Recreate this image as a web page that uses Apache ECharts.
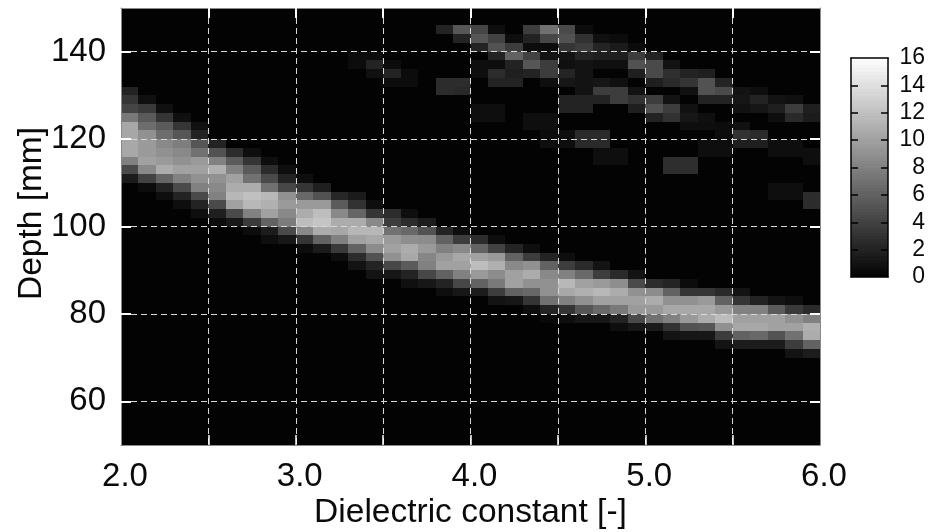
<!DOCTYPE html>
<html>
<head>
<meta charset="utf-8">
<script src="https://cdn.jsdelivr.net/npm/echarts@6/dist/echarts.min.js"></script>
<style>html,body{margin:0;padding:0;background:#fff}#c{width:930px;height:532px}</style>
</head>
<body>
<div id="c"></div>
<script>
const xLabelValues = [2, 3, 4, 5, 6];
const xTickValues = [2.5, 3, 3.5, 4, 4.5, 5, 5.5];
const yTickValues = [60, 80, 100, 120, 140];
const colorbarTicks = [0, 2, 4, 6, 8, 10, 12, 14, 16];
const xTitle = 'Dielectric constant [-]';
const yTitle = 'Depth [mm]';

// Main band, one entry per 0.1 column from 2.0: [top depth of first cell, cell values going down in 2 mm steps]
const bandColumns = [
  [132, [2, 3.2, 4.2, 7.5, 10.5, 10.4, 10.5, 10.5, 8, 4.5, 1.5]],
  [130, [0.8, 3.5, 5.5, 6.7, 9, 9.6, 9.6, 10, 8.5, 4, 0.6]],
  [128, [0.8, 3.2, 5.6, 6.7, 8.5, 9, 9.6, 10.7, 6.2, 2, 0.7]],
  [126, [0.8, 3.2, 5.3, 7.8, 8.5, 9, 10, 8, 4.5, 2, 0.7]],
  [124, [0.8, 2, 5.3, 7, 9.6, 10, 9, 8, 4.5, 2, 0.7]],
  [120, [2, 5, 8, 11, 9, 8.5, 8, 4.5, 1.8, 0.6]],
  [118, [2.6, 5.6, 8, 10, 10.7, 11.4, 10, 4.5, 1.3]],
  [118, [0.7, 3.2, 5.5, 7, 10.7, 12, 11.5, 8, 3.5, 0.6]],
  [116, [0.7, 2.6, 4.5, 7, 11.5, 11, 10, 6, 1.6, 0.7]],
  [114, [0.7, 2, 4.3, 9, 9.6, 8.5, 7.7, 4.5, 1.3]],
  [112, [0.7, 3.2, 6.4, 9.6, 10.7, 11.8, 8.5, 3.2, 0.6]],
  [110, [1.8, 5, 9.6, 11.8, 12.3, 10.7, 6, 1.5]],
  [108, [2.3, 5.6, 8.5, 10.7, 10.4, 8, 3.5, 0.7]],
  [108, [1.5, 3, 6.2, 10.7, 11.4, 10, 6, 2.6, 1]],
  [106, [0.7, 3.2, 8.5, 11.4, 10.5, 8.7, 5, 2.1, 1]],
  [104, [2.6, 3.7, 7, 9.6, 10, 9, 4.3, 1.3]],
  [104, [0.7, 2.6, 6.4, 8.8, 10.7, 10.5, 5.6, 2, 0.8]],
  [102, [1.6, 5, 8.7, 9.6, 8.3, 8, 4.3, 1.3]],
  [100, [2.1, 6, 8, 9.6, 10, 6, 2, 0.7]],
  [100, [0.7, 3.7, 8.5, 10.5, 10, 8, 4.3, 1.3]],
  [98, [2.6, 6, 10, 11.8, 9.6, 6, 1.6]],
  [98, [0.7, 4, 9.6, 11, 8.7, 7.5, 3.7, 1]],
  [96, [2.1, 6, 8.5, 10, 10, 6, 1.3]],
  [96, [0.7, 3.7, 9, 10.7, 9, 6.4, 3.2, 0.7]],
  [94, [2, 6, 8.5, 9, 9, 7, 2.1, 0.4]],
  [94, [0.7, 3.7, 8, 11.5, 10.5, 8, 3.2, 0.7]],
  [92, [2.5, 6.5, 10, 11, 9, 5.3, 1.3]],
  [92, [1, 3.7, 9.6, 11.5, 10, 6.4, 1.3]],
  [90, [2.5, 8.8, 10.7, 10, 7.5, 2, 0.7]],
  [90, [1, 4.5, 9, 10, 9.6, 4.5, 1.3]],
  [88, [2.6, 8.7, 10.7, 9.6, 7, 1.5]],
  [88, [2.1, 6, 9, 10.5, 8, 3, 1]],
  [88, [0.6, 3.2, 9, 10.5, 9.6, 5, 1.3]],
  [86, [3.2, 9.6, 10.5, 10.7, 5.3, 1.3]],
  [86, [2.5, 6, 9.6, 11.8, 9, 3.7, 1]],
  [86, [1, 3.2, 8, 10, 10.5, 6, 1.6]],
  [84, [2, 8, 10, 10.5, 6.4, 1.6]],
  [84, [1.1, 5.6, 10, 10, 5, 1.6]],
  [84, [0.7, 3.5, 9, 10, 7, 3.7, 1]],
  [82, [2.5, 8, 11, 10.7, 6, 1.6]]
];

// Faint scattered cells in the upper part: [column index, top depth of cell, value]
const faintCells = [
  [18,146,2],[19,146,5.3],[20,146,4.2],[21,146,0.7],[23,146,3.7],[24,146,7],[25,146,4.5],[26,146,0.6],
  [19,144,2],[20,144,5.3],[21,144,4],[22,144,0.7],[23,144,2],[24,144,4.3],[25,144,5],[26,144,3],[27,144,0.8],[28,144,0.6],
  [20,142,2],[21,142,5],[22,142,3.7],[23,142,0.6],[24,142,0.5],[25,142,3.2],[26,142,3.7],[27,142,2.1],[28,142,1.5],[29,142,0.5],
  [13,140,0.6],[14,140,0.6],[21,140,2],[22,140,6],[23,140,4],[24,140,1],[25,140,1],[26,140,2],[27,140,1.8],[28,140,1.8],[29,140,3.7],[30,140,2],
  [13,138,0.6],[14,138,2],[15,138,0.6],[20,138,0.7],[21,138,0.7],[22,138,2],[23,138,5.3],[24,138,3.7],[25,138,0.8],[26,138,1],[27,138,0.8],[28,138,0.8],[29,138,5],[30,138,4.5],[31,138,1],
  [14,136,0.8],[15,136,2],[16,136,0.6],[20,136,0.7],[21,136,2.6],[22,136,1.8],[23,136,2],[24,136,3.7],[25,136,2.1],[26,136,1],[29,136,1.8],[30,136,4.5],[31,136,2.8],[32,136,2],[33,136,1.8],
  [15,134,0.6],[16,134,0.6],[18,134,2.6],[19,134,2.6],[21,134,2],[22,134,2],[24,134,0.7],[25,134,1.3],[26,134,1],[27,134,1.2],[28,134,0.8],[30,134,1.8],[31,134,2.5],[32,134,3.2],[33,134,5],[34,134,2.1],
  [18,132,2.6],[19,132,2.4],[26,132,1],[27,132,3.7],[28,132,3.7],[29,132,1],[32,132,0.9],[33,132,5],[34,132,4.5],[35,132,1],[36,132,0.7],
  [25,130,2],[26,130,2],[27,130,2],[28,130,3.7],[29,130,3],[30,130,3.7],[31,130,1],[33,130,2],[34,130,2],[35,130,1.2],[36,130,2],[37,130,1],[38,130,0.8],
  [20,128,0.7],[21,128,0.7],[25,128,2],[26,128,2],[29,128,1.8],[30,128,5],[31,128,3.7],[32,128,0.9],[35,128,0.9],[36,128,1.2],[37,128,1.8],[38,128,3.7],[39,128,1.8],
  [20,126,0.7],[21,126,0.7],[23,126,0.7],[24,126,0.7],[30,126,2],[31,126,3],[32,126,1.3],[33,126,0.8],[37,126,0.7],[38,126,2.5],[39,126,1.6],
  [23,124,0.7],[24,124,0.7],[32,124,0.7],[33,124,0.7],[34,124,0.6],[35,124,0.9],
  [24,122,0.5],[25,122,0.7],[26,122,2.5],[27,122,2.5],[34,122,0.6],[35,122,3],[36,122,2.5],
  [24,120,0.7],[25,120,0.7],[26,120,2.5],[27,120,2.5],[33,120,0.7],[34,120,0.7],[35,120,1.8],[36,120,1.8],[37,120,0.7],[38,120,0.7],
  [27,118,0.7],[28,118,0.7],[33,118,0.7],[34,118,0.7],[37,118,0.7],[38,118,0.7],[39,118,0.7],
  [27,116,0.7],[28,116,0.7],[31,116,2.7],[32,116,2.7],[39,116,0.7],
  [31,114,2.7],[32,114,2.7],
  [37,110,0.7],[38,110,0.7],
  [37,108,0.7],[38,108,0.7],[39,108,2.6],
  [39,106,2.6]
];

const colorbarLevels = [];
for (let i = 0; i < 64; i++) colorbarLevels.push(i * 0.25);

const cells = [];
bandColumns.forEach(function (col, c) {
  col[1].forEach(function (v, i) {
    cells.push([2 + c * 0.1, col[0] - 2 * (i + 1), v, 0.1, 2]);
  });
});
faintCells.forEach(function (f) {
  cells.push([2 + f[0] * 0.1, f[1] - 2, f[2], 0.1, 2]);
});
const colorbarCells = colorbarLevels.map(function (v) {
  return [0, v, v + 0.125, 1, 0.25];
});

function renderCell(params, api) {
  const a = api.coord([api.value(0), api.value(1) + api.value(4)]);
  const b = api.coord([api.value(0) + api.value(3), api.value(1)]);
  const x0 = Math.round(a[0]), y0 = Math.round(a[1]);
  const x1 = Math.round(b[0]), y1 = Math.round(b[1]);
  return {
    type: 'rect',
    shape: { x: x0, y: y0, width: x1 - x0, height: y1 - y0 },
    style: { fill: api.visual('color') }
  };
}

const font = 'Liberation Sans';
const ink = '#0a0a0a';
const tickWhite = { show: true, inside: true, length: 10, lineStyle: { color: '#fff', width: 2 } };
const frame = { show: true, onZero: false, lineStyle: { color: '#8a8a8a', width: 1 } };
const gridLine = { show: true, lineStyle: { color: '#d8d8d8', width: 1, type: [6, 4] } };
const barLine = { show: true, onZero: false, lineStyle: { color: '#000', width: 1.5 } };
const barTick = { show: true, inside: true, length: 7, customValues: colorbarTicks.slice(1, -1), lineStyle: { color: '#000', width: 1.5 } };

const chart = echarts.init(document.getElementById('c'), null, { renderer: 'canvas' });
chart.setOption({
  animation: false,
  backgroundColor: '#fff',
  visualMap: {
    show: false, min: 0, max: 16, dimension: 2, seriesIndex: [0, 1],
    inRange: { color: ['#030303', '#ffffff'] }
  },
  grid: [
    { left: 121, top: 8, width: 699, height: 437, show: true, backgroundColor: '#030303', borderWidth: 0, outerBoundsMode: 'none', containLabel: false },
    { left: 851, top: 58, width: 37, height: 219, show: false, outerBoundsMode: 'none', containLabel: false }
  ],
  xAxis: [
    {
      type: 'value', gridIndex: 0, min: 2, max: 6, position: 'bottom', z: 10,
      axisLine: frame,
      axisTick: Object.assign({}, tickWhite, { customValues: xTickValues, lineStyle: { color: '#fff', width: 1.5 } }),
      splitLine: gridLine,
      axisLabel: {
        customValues: xLabelValues, fontFamily: font, fontSize: 33, color: ink, margin: 15,
        padding: [0, 0, 0, 8], hideOverlap: false,
        formatter: function (v) { return v.toFixed(1); }
      },
      name: xTitle, nameLocation: 'middle', nameGap: 51, nameMoveOverlap: false,
      nameTextStyle: { fontFamily: font, fontSize: 33.5, color: ink }
    },
    {
      type: 'value', gridIndex: 0, min: 2, max: 6, position: 'top', z: 10,
      axisLine: frame,
      axisTick: Object.assign({}, tickWhite, { customValues: xTickValues }),
      splitLine: { show: false }, axisLabel: { show: false }
    },
    {
      type: 'value', gridIndex: 1, min: 0, max: 1, position: 'bottom', z: 10,
      axisLine: barLine, axisTick: { show: false }, splitLine: { show: false }, axisLabel: { show: false }
    },
    {
      type: 'value', gridIndex: 1, min: 0, max: 1, position: 'top', z: 10,
      axisLine: barLine, axisTick: { show: false }, splitLine: { show: false }, axisLabel: { show: false }
    }
  ],
  yAxis: [
    {
      type: 'value', gridIndex: 0, min: 50, max: 150, position: 'left', z: 10,
      axisLine: frame,
      axisTick: Object.assign({}, tickWhite, { customValues: yTickValues }),
      splitLine: gridLine,
      axisLabel: { customValues: yTickValues, fontFamily: font, fontSize: 33, color: ink, margin: 15, padding: [0, 0, 6, 0] },
      name: yTitle, nameLocation: 'middle', nameGap: 72, nameMoveOverlap: false,
      nameTextStyle: { fontFamily: font, fontSize: 33.5, color: ink, padding: [0, 0, 0, 26] }
    },
    {
      type: 'value', gridIndex: 0, min: 50, max: 150, position: 'right', z: 10,
      axisLine: frame,
      axisTick: Object.assign({}, tickWhite, { customValues: yTickValues }),
      splitLine: { show: false }, axisLabel: { show: false }
    },
    {
      type: 'value', gridIndex: 1, min: 0, max: 16, interval: 2, position: 'right', z: 10,
      axisLine: barLine, axisTick: barTick, splitLine: { show: false },
      axisLabel: { customValues: colorbarTicks, fontFamily: font, fontSize: 23, color: ink, align: 'right', margin: 37, padding: [4, 0, 0, 0] }
    },
    {
      type: 'value', gridIndex: 1, min: 0, max: 16, interval: 2, position: 'left', z: 10,
      axisLine: barLine, axisTick: barTick, splitLine: { show: false }, axisLabel: { show: false }
    }
  ],
  series: [
    {
      type: 'custom', xAxisIndex: 0, yAxisIndex: 0, clip: true, z: 2,
      renderItem: renderCell, encode: { x: 0, y: 1 }, data: cells
    },
    {
      type: 'custom', xAxisIndex: 2, yAxisIndex: 2, clip: true, z: 2,
      renderItem: renderCell, encode: { x: 0, y: 1 }, data: colorbarCells
    }
  ]
});
</script>
</body>
</html>
